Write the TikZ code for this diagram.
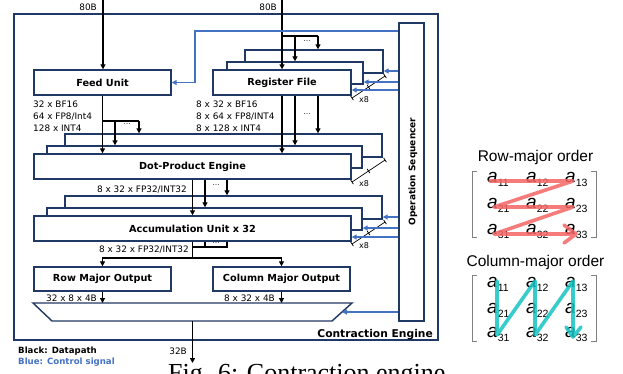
\documentclass[tikz,border=0pt]{standalone}
\usepackage{fontspec}
\setmainfont{DejaVu Sans}
\newfontfamily\helv{Liberation Sans}
\newfontfamily\capfont{Liberation Serif}
\usetikzlibrary{arrows.meta,calc}
\definecolor{navy}{RGB}{32,56,100}
\definecolor{ctrlblue}{RGB}{68,114,196}
\definecolor{rowred}{RGB}{245,100,100}
\definecolor{colteal}{RGB}{20,196,196}
\definecolor{brgrey}{RGB}{128,128,128}
\begin{document}
\begin{tikzpicture}[x=1pt,y=-1pt,
  blk/.style={draw=navy, line width=1.4pt, fill=white, inner sep=0pt, font=\bfseries\fontsize{9.7}{11}\selectfont},
  dat/.style={line width=1.3pt, draw=black},
  datarr/.style={dat, -{Triangle[length=5pt,width=5pt]}},
  ctl/.style={line width=1.3pt, draw=ctrlblue, color=ctrlblue, -{Triangle[length=5pt,width=5pt]}},
  lbl/.style={inner sep=0pt, font=\fontsize{8.9}{12}\selectfont},
  dotlbl/.style={inner sep=0pt, font=\fontsize{7}{7}\selectfont},
  multline/.style={line width=0.7pt},
  el/.style={inner sep=0pt, font=\helv\fontsize{19}{19}\selectfont\itshape},
  brk/.style={draw=brgrey, line width=0.9pt},
  zigzag/.style={line width=3.6pt, line join=round, line cap=round, draw opacity=0.85},
]
\useasboundingbox (0,0) rectangle (623,373);
\fill[white] (0,0) rectangle (623,373);

% outer frame
\node[draw=navy, line width=2.4pt, minimum width=424, minimum height=326, inner sep=0pt] (ce) at (226,177) {};

% sequencer
\node[blk, minimum width=25, minimum height=298] (seq) at (411.5,172) {};
\node[rotate=90, inner sep=0pt, font=\bfseries\fontsize{9}{10}\selectfont] (seqtxt) at (413,171.5) {Operation Sequencer};

% feed unit and register file stack
\node[blk, minimum width=137, minimum height=25] (fu) at (102.5,82.5) {Feed Unit};
\node[blk, minimum width=138, minimum height=23] (rf3) at (314,61.5) {};
\node[blk, minimum width=136, minimum height=22] (rf2) at (295,73) {};
\node[blk, minimum width=138, minimum height=25] (rf) at (282,82.5) {Register File};

% dot-product engine stack
\node[blk, minimum width=317, minimum height=23] (dpe3) at (223.5,145.5) {};
\node[blk, minimum width=315, minimum height=22] (dpe2) at (204.5,157) {};
\node[blk, minimum width=317, minimum height=25] (dpe) at (192.5,166.5) {Dot-Product Engine};

% accumulation stack
\node[blk, minimum width=317, minimum height=23] (acc3) at (223.5,207.5) {};
\node[blk, minimum width=315, minimum height=22] (acc2) at (204.5,219) {};
\node[blk, minimum width=317, minimum height=25] (acc) at (192.5,228.5) {Accumulation Unit x 32};

% outputs
\node[blk, minimum width=137, minimum height=24] (rmo) at (102.5,279) {Row Major Output};
\node[blk, minimum width=137, minimum height=24] (cmo) at (281.5,279) {Column Major Output};

% mux
\draw[draw=navy, line width=1.4pt, fill=white] (33,303) -- (352,303) -- (332,321) -- (52,321) -- cycle;
\coordinate (muxtop) at (192.5,303);
\coordinate (muxbot) at (192.5,321);
\coordinate (mc) at (342,312);

% x8 multiplicity marks
\foreach \T in {70,154,216} {
  \draw[multline] (352,{\T+28}) -- (385,{\T+6});
  \draw[multline] (350.6,{\T+25.9}) -- (353.4,{\T+30.1});
  \draw[multline] (367.1,{\T+14.9}) -- (369.9,{\T+19.1});
  \draw[multline] (383.6,{\T+3.9}) -- (386.4,{\T+8.1});
  \node[inner sep=0pt, anchor=base west, font=\fontsize{8}{9}\selectfont] at (359,{\T+32}) {x8};
}

% data inputs
\coordinate (in1) at (103,0);
\coordinate (in2) at (282,0);
\node[lbl, anchor=base east] at (97,10) {80B};
\node[lbl, anchor=base east] at (277,10) {80B};
\draw[datarr] (in1) -- (in1 |- fu.north);
\draw[datarr] (in2) -- (in2 |- rf.north);
\coordinate (rb) at (282,36);
\coordinate (rb1) at (295,36);
\coordinate (rb2) at (318,36);
\draw[dat] (rb) -- (rb2);
\draw[datarr] (rb1) -- (rb1 |- rf2.north);
\draw[datarr] (rb2) -- (rb2 |- rf3.north);
\node[dotlbl] at (307,41) {…};

% feed unit outputs
\foreach \t [count=\i] in {32 x BF16, 64 x FP8/Int4, 128 x INT4}
  \node[lbl, anchor=base west] at (33,{95+12*\i}) {\t};
\foreach \t [count=\i] in {8 x 32 x BF16, 8 x 64 x FP8/INT4, 8 x 128 x INT4}
  \node[lbl, anchor=base west] at (196,{95+12*\i}) {\t};
\draw[datarr] (fu.south) -- (fu.south |- dpe.north);
\coordinate (fb) at (102.5,121);
\coordinate (fb1) at (115,121);
\coordinate (fb2) at (139,121);
\draw[dat] (fb) -- (fb2);
\draw[datarr] (fb1) -- (fb1 |- dpe2.north);
\draw[datarr] (fb2) -- (fb2 |- dpe3.north);
\node[dotlbl] at (127,124) {…};

% register file outputs
\draw[datarr] (in2 |- rf.south) -- (in2 |- dpe.north);
\draw[datarr] (rb1 |- rf.south) -- (rb1 |- dpe2.north);
\draw[datarr] (rb2 |- rf.south) -- (rb2 |- dpe3.north);
\node[dotlbl] at (307,114) {…};

% DPE outputs
\node[lbl, anchor=base east] at (187,192) {8 x 32 x FP32/INT32};
\coordinate (dx1) at (205,0);
\coordinate (dx2) at (227,0);
\draw[datarr] (dpe.south) -- (dpe.south |- acc.north);
\draw[datarr] (dx1 |- dpe.south) -- (dx1 |- acc2.north);
\draw[datarr] (dx2 |- dpe.south) -- (dx2 |- acc3.north);
\node[dotlbl] at (216,185) {…};

% accumulation outputs
\node[lbl, anchor=base east] at (189,252) {8 x 32 x FP32/INT32};
\coordinate (ab) at (192.5,247);
\coordinate (ab1) at (205,247);
\coordinate (ab2) at (227,247);
\draw[dat] (acc.south) -- (ab) -- (ab2) -- (ab2 |- acc.south);
\draw[dat] (ab1) -- (ab1 |- acc.south);
\node[dotlbl] at (216,243) {…};
\coordinate (split) at (192.5,258);
\draw[dat] (ab) -- (split);
\draw[datarr] (split) -| (rmo.north);
\draw[datarr] (split) -| (cmo.north);

% to mux
\node[lbl, anchor=base east] at (97,301) {32 x 8 x 4B};
\node[lbl, anchor=base east] at (275,301) {8 x 32 x 4B};
\draw[datarr] (rmo.south) -- (rmo.south |- muxtop);
\draw[datarr] (cmo.south) -- (cmo.south |- muxtop);
\coordinate (out) at (192.5,363);
\draw[datarr] (muxbot) -- (out);
\node[lbl, anchor=base east] at (187,354) {32B};

% control signals
\coordinate (c0) at (195,31);
\draw[ctl] (seq.west |- c0) -- (c0) |- (fu.east);
\foreach \y/\n in {71/rf3, 82/rf2, 90/rf, 217/acc3, 228/acc2, 237/acc} {
  \coordinate (k) at (0,\y);
  \draw[ctl] (seq.west |- k) -- (\n.east |- k);
}
\draw[ctl] (seq.west |- mc) -- (mc);

% titles and legend
\node[inner sep=0pt, anchor=base east, font=\bfseries\fontsize{10.7}{12}\selectfont] at (433,337) {Contraction Engine};
\node[inner sep=0pt, anchor=base west, font=\bfseries\fontsize{8.6}{10}\selectfont] at (18,353) {Black: Datapath};
\node[inner sep=0pt, anchor=base west, text=ctrlblue, font=\bfseries\fontsize{8.6}{10}\selectfont] at (18,364.5) {Blue: Control signal};

% row-major illustration
\node[inner sep=0pt, anchor=base, font=\helv\fontsize{15.5}{16}\selectfont] at (535.5,161) {Row-major order};
\draw[brk] (477,171) -- (472,171) -- (472,237) -- (477,237);
\draw[brk] (591,171) -- (596,171) -- (596,237) -- (591,237);
\foreach \r/\y in {1/182,2/208,3/234}
  \foreach \c/\x in {1/487,2/526,3/565}
    \node[el, anchor=base west] at (\x,\y) {a{\upshape\fontsize{10.5}{10.5}\selectfont\raisebox{-4.5pt}{\r\c}}};
\draw[rowred, zigzag]
  (490,181) -- (573,181) -- (494,207) -- (573,207) -- (494,234) -- (576,234)
  (564,225) -- (576,234) -- (564,243);

% column-major illustration
\node[inner sep=0pt, anchor=base, font=\helv\fontsize{15.5}{16}\selectfont] at (535.5,266) {Column-major order};
\draw[brk] (477,275) -- (472,275) -- (472,341) -- (477,341);
\draw[brk] (591,275) -- (596,275) -- (596,341) -- (591,341);
\foreach \r/\y in {1/287,2/313,3/337}
  \foreach \c/\x in {1/487,2/526,3/565}
    \node[el, anchor=base west] at (\x,\y) {a{\upshape\fontsize{10.5}{10.5}\selectfont\raisebox{-4.5pt}{\r\c}}};
\draw[colteal, zigzag]
  (497,281) -- (497,335) -- (535,281) -- (535,335) -- (573,281) -- (573,337)
  (566,327) -- (573,337) -- (581,327);

% caption (cut off at the bottom edge, as in the reference)
\node[inner sep=0pt, anchor=base west, font=\capfont\fontsize{26}{26}\selectfont] at (168,381) {Fig. 6: Contraction engine};
\end{tikzpicture}
\end{document}
